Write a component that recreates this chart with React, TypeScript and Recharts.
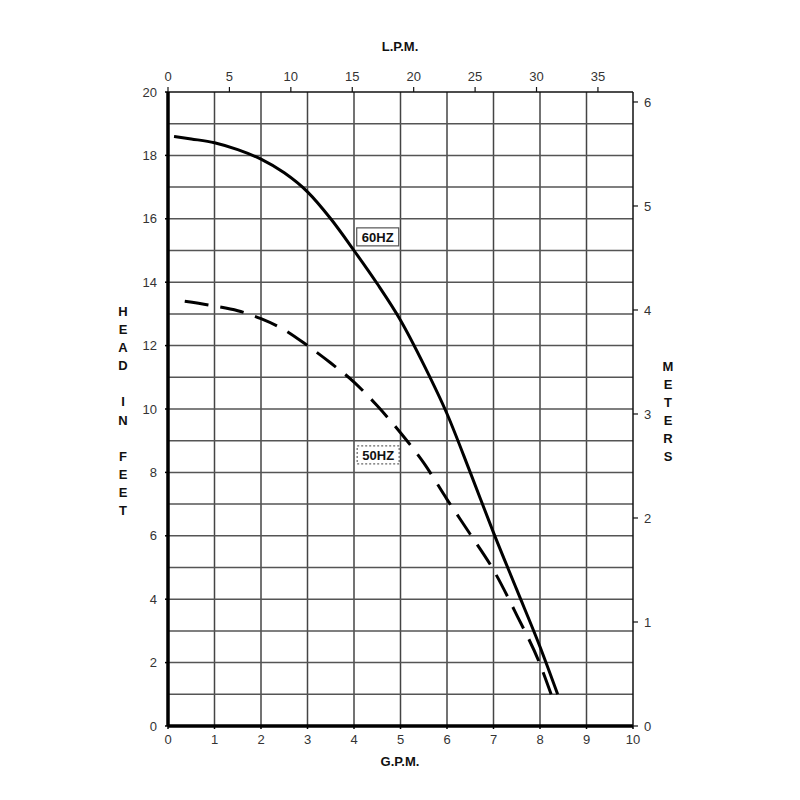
import { LineChart, Line, XAxis, YAxis, ReferenceLine, ReferenceDot } from "recharts";

// pump curve: head (feet) vs flow (G.P.M.)
const gpmTicks = [0, 1, 2, 3, 4, 5, 6, 7, 8, 9, 10];
const lpmTicks = [0, 5, 10, 15, 20, 25, 30, 35];
const feetTicks = [0, 2, 4, 6, 8, 10, 12, 14, 16, 18, 20];
const meterTicks = [0, 1, 2, 3, 4, 5, 6];
const gridGpm = [1, 2, 3, 4, 5, 6, 7, 8, 9];
const gridFeet = [1, 2, 3, 4, 5, 6, 7, 8, 9, 10, 11, 12, 13, 14, 15, 16, 17, 18, 19];

const hz60Gpm = [0.13, 0.5, 1, 1.5, 2, 2.5, 3, 3.5, 4, 4.5, 5, 5.5, 6, 6.5, 7, 7.5, 8, 8.38];
const hz60Feet = [18.6, 18.52, 18.4, 18.18, 17.88, 17.45, 16.85, 16.0, 15.0, 13.95, 12.8, 11.4, 9.85, 8.0, 6.1, 4.3, 2.5, 1.0];
const hz50Gpm = [0.36, 1, 1.5, 2, 2.5, 3, 3.5, 4, 4.5, 5, 5.5, 6, 6.5, 7, 7.5, 8, 8.24];
const hz50Feet = [13.4, 13.25, 13.1, 12.85, 12.5, 12.0, 11.45, 10.85, 10.1, 9.25, 8.3, 7.15, 6.05, 4.92, 3.5, 1.95, 1.0];

const GPM_TO_LPM = 3.7854;
const FT_TO_M = 0.3048;

const hz60 = hz60Gpm.map((g, i) => ({ gpm: g, ft: hz60Feet[i] }));
const hz50 = hz50Gpm.map((g, i) => ({ gpm: g, ft: hz50Feet[i] }));
// same 60HZ curve in metric units, drawn invisibly so the L.P.M. / METERS axes are used
const hz60Metric = hz60Gpm.map((g, i) => ({ lpm: g * GPM_TO_LPM, m: hz60Feet[i] * FT_TO_M }));

const FONT = "'Liberation Sans', Arial, sans-serif";
const tickStyle = { fontSize: 13, fill: "#333", fontFamily: FONT };
const titleStyle: React.CSSProperties = {
  position: "absolute",
  fontFamily: FONT,
  fontWeight: 700,
  fontSize: 13,
  color: "#111",
  textAlign: "center",
};

function boxLabel(text: string, dashed: boolean) {
  return (props: any) => {
    const { cx, cy } = props;
    return (
      <g>
        <rect
          x={cx - 21}
          y={cy - 9}
          width={42}
          height={18}
          fill="#fff"
          stroke={dashed ? "#666" : "#555"}
          strokeWidth={1.2}
          strokeDasharray={dashed ? "2 2" : undefined}
        />
        <text
          x={cx}
          y={cy + 5}
          textAnchor="middle"
          fontFamily={FONT}
          fontWeight={700}
          fontSize={13}
          fill="#111"
        >
          {text}
        </text>
      </g>
    );
  };
}

function Stacked({ text, left, top }: { text: string; left: number; top: number }) {
  return (
    <div style={{ ...titleStyle, left, top, width: 20, lineHeight: "18.1px" }}>
      {text.split("").map((ch, i) => (
        <div key={i} style={{ height: 18.1 }}>
          {ch === " " ? "\u00a0" : ch}
        </div>
      ))}
    </div>
  );
}

export default function App() {
  return (
    <div style={{ position: "absolute", left: 0, top: 0, width: 800, height: 800, background: "#fff" }}>
      <div style={{ ...titleStyle, left: 350, top: 39, width: 100 }}>L.P.M.</div>
      <div style={{ ...titleStyle, left: 350, top: 754, width: 100 }}>G.P.M.</div>
      <Stacked text="HEAD IN FEET" left={113} top={303} />
      <Stacked text="METERS" left={658} top={358} />
      <LineChart width={800} height={800} margin={{ top: 62, right: 107, bottom: 44, left: 108 }}>
        <XAxis
          xAxisId="gpm"
          type="number"
          dataKey="gpm"
          domain={[0, 10]}
          ticks={gpmTicks}
          interval={0}
          height={30}
          axisLine={{ stroke: "#000", strokeWidth: 3.5 }}
          tickLine={{ stroke: "#000", strokeWidth: 1.5 }}
          tickSize={3}
          tickMargin={6}
          tick={tickStyle}
        />
        <XAxis
          xAxisId="lpm"
          orientation="top"
          type="number"
          dataKey="lpm"
          domain={[0, 10 * GPM_TO_LPM]}
          allowDataOverflow
          ticks={lpmTicks}
          interval={0}
          height={30}
          axisLine={{ stroke: "#111", strokeWidth: 1.5 }}
          tickLine={{ stroke: "#111", strokeWidth: 1.2 }}
          tickSize={5}
          tickMargin={6}
          tick={tickStyle}
        />
        <YAxis
          yAxisId="ft"
          type="number"
          domain={[0, 20]}
          ticks={feetTicks}
          interval={0}
          width={60}
          axisLine={{ stroke: "#000", strokeWidth: 3.5 }}
          tickLine={{ stroke: "#000", strokeWidth: 1.5 }}
          tickSize={3}
          tickMargin={8}
          tick={tickStyle}
        />
        <YAxis
          yAxisId="m"
          orientation="right"
          type="number"
          domain={[0, 20 * FT_TO_M]}
          allowDataOverflow
          ticks={meterTicks}
          interval={0}
          width={60}
          axisLine={{ stroke: "#111", strokeWidth: 1.5 }}
          tickLine={{ stroke: "#111", strokeWidth: 1.2 }}
          tickSize={5}
          tickMargin={6}
          tick={tickStyle}
        />
        {gridGpm.map((g) => (
          <ReferenceLine
            key={"v" + g}
            xAxisId="gpm"
            yAxisId="ft"
            x={g}
            stroke="#444"
            strokeWidth={1.5}
          />
        ))}
        {gridFeet.map((f) => (
          <ReferenceLine
            key={"h" + f}
            xAxisId="gpm"
            yAxisId="ft"
            y={f}
            stroke="#555"
            strokeWidth={1.5}
          />
        ))}
        <Line
          xAxisId="lpm"
          yAxisId="m"
          data={hz60Metric}
          dataKey="m"
          type="monotone"
          stroke="none"
          dot={false}
          activeDot={false}
          isAnimationActive={false}
        />
        <Line
          xAxisId="gpm"
          yAxisId="ft"
          data={hz60}
          dataKey="ft"
          type="monotone"
          stroke="#000"
          strokeWidth={3}
          dot={false}
          isAnimationActive={false}
        />
        <Line
          xAxisId="gpm"
          yAxisId="ft"
          data={hz50}
          dataKey="ft"
          type="monotone"
          stroke="#000"
          strokeWidth={3}
          strokeDasharray="24 12"
          dot={false}
          isAnimationActive={false}
        />
        <ReferenceDot
          xAxisId="gpm"
          yAxisId="ft"
          x={4.51}
          y={15.43}
          r={0}
          shape={boxLabel("60HZ", false)}
        />
        <ReferenceDot
          xAxisId="gpm"
          yAxisId="ft"
          x={4.52}
          y={8.55}
          r={0}
          shape={boxLabel("50HZ", true)}
        />
      </LineChart>
    </div>
  );
}
